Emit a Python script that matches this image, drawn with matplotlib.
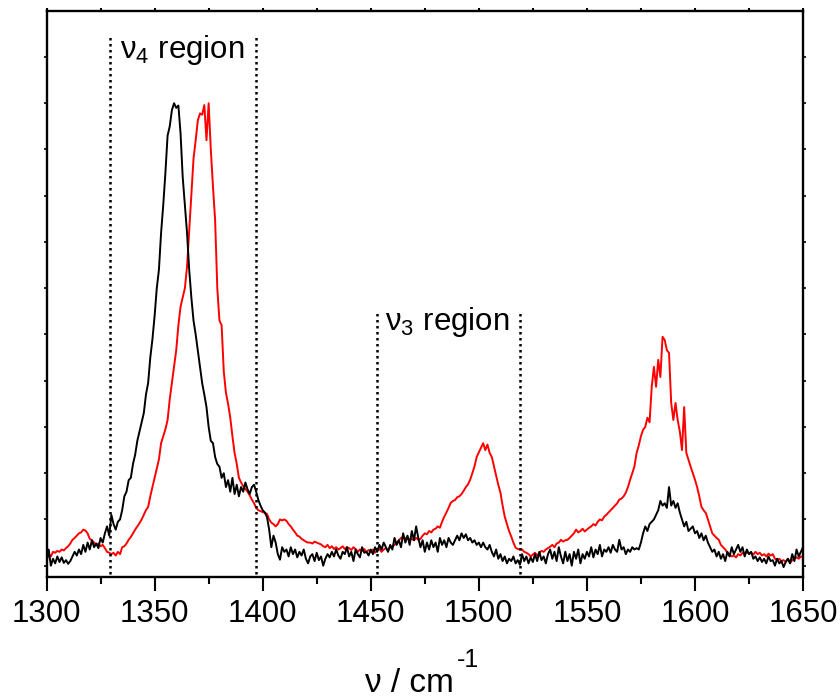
import numpy as np
import matplotlib.pyplot as plt
from matplotlib.ticker import MultipleLocator, NullFormatter

plt.rcParams['font.family'] = ['Liberation Sans', 'DejaVu Sans']
plt.rcParams['mathtext.fontset'] = 'custom'
plt.rcParams['mathtext.rm'] = 'Liberation Sans'
plt.rcParams['mathtext.it'] = 'Liberation Sans'

# wavenumber grid, 1 cm-1 step
wavenumber = np.arange(1300, 1651)

# black spectrum (normalised intensity)
black = [
    0.005, 0.035, 0.0, 0.015, 0.005, 0.02, 0.008, 0.018, 0.006, 0.012,
    0.004, 0.01, 0.02, 0.03, 0.022, 0.035, 0.025, 0.045, 0.03, 0.05,
    0.035, 0.055, 0.04, 0.048, 0.038, 0.06, 0.05, 0.07, 0.085, 0.065,
    0.11, 0.09, 0.078, 0.095, 0.1, 0.12, 0.15, 0.16, 0.185, 0.19,
    0.22, 0.24, 0.27, 0.29, 0.31, 0.33, 0.37, 0.395, 0.45, 0.49,
    0.54, 0.6, 0.64, 0.72, 0.78, 0.85, 0.93, 0.95, 0.985, 1.0,
    0.99, 0.995, 0.935, 0.84, 0.78, 0.72, 0.64, 0.58, 0.53, 0.5,
    0.465, 0.43, 0.395, 0.37, 0.343, 0.3, 0.27, 0.265, 0.235, 0.22,
    0.214, 0.19, 0.2, 0.17, 0.185, 0.16, 0.19, 0.155, 0.175, 0.15,
    0.17, 0.16, 0.18, 0.165, 0.155, 0.17, 0.175, 0.16, 0.142, 0.13,
    0.12, 0.115, 0.105, 0.078, 0.04, 0.065, 0.05, 0.025, 0.013, 0.04,
    0.03, 0.035, 0.02, 0.04, 0.025, 0.035, 0.018, 0.03, 0.022, 0.035,
    0.015, 0.005, 0.02, 0.025, 0.01, 0.028, 0.012, 0.02, 0.0, 0.015,
    0.025, 0.018, 0.03, 0.02, 0.035, 0.022, 0.015, 0.03, 0.025, 0.04,
    0.02, 0.03, 0.01, 0.035, 0.025, 0.018, 0.04, 0.028, 0.03, 0.022,
    0.035, 0.025, 0.04, 0.03, 0.045, 0.035, 0.05, 0.04, 0.03, 0.045,
    0.035, 0.06, 0.045, 0.055, 0.04, 0.07, 0.05, 0.065, 0.045, 0.075,
    0.055, 0.085, 0.06, 0.04, 0.055, 0.03, 0.05, 0.035, 0.055, 0.04,
    0.05, 0.03, 0.06, 0.045, 0.055, 0.04, 0.06, 0.05, 0.045, 0.055,
    0.065, 0.055, 0.07, 0.06, 0.068, 0.055, 0.06, 0.05, 0.055, 0.045,
    0.05, 0.04, 0.05, 0.04, 0.035, 0.045, 0.03, 0.02, 0.035, 0.015,
    0.025, 0.01, 0.02, 0.005, 0.015, 0.01, 0.02, 0.005, 0.012, 0.002,
    0.025, 0.01, 0.02, 0.005, 0.018, 0.008, 0.025, 0.01, 0.03, 0.012,
    0.02, 0.005, 0.025, 0.035, 0.015, 0.03, 0.01, 0.04, 0.02, 0.005,
    0.03, 0.01, 0.025, 0.0, 0.03, 0.015, 0.035, 0.005, 0.025, 0.015,
    0.03, 0.02, 0.04, 0.018, 0.035, 0.025, 0.045, 0.02, 0.035, 0.03,
    0.04, 0.028, 0.045, 0.035, 0.03, 0.056, 0.035, 0.04, 0.025, 0.035,
    0.03, 0.04, 0.035, 0.038, 0.035, 0.05, 0.07, 0.085, 0.075, 0.09,
    0.095, 0.1, 0.11, 0.12, 0.14, 0.13, 0.135, 0.125, 0.17, 0.13,
    0.14, 0.125, 0.135, 0.115, 0.1, 0.085, 0.095, 0.075, 0.08, 0.085,
    0.07, 0.075, 0.06, 0.07, 0.055, 0.065, 0.05, 0.04, 0.03, 0.035,
    0.02, 0.03, 0.015, 0.025, 0.01, 0.03, 0.02, 0.04, 0.025, 0.035,
    0.045, 0.03, 0.04, 0.02, 0.035, 0.025, 0.03, 0.015, 0.02, 0.01,
    0.018, 0.008, 0.015, 0.005, 0.02, 0.01, 0.012, 0.0, 0.015, 0.005,
    0.01, -0.003, 0.008, 0.015, 0.005, 0.025, 0.01, 0.035, 0.02, 0.03,
    0.04,
]

# red spectrum (normalised intensity)
red = [
    0.02, 0.025, 0.02, 0.03, 0.028, 0.032, 0.03, 0.035, 0.033, 0.038,
    0.042, 0.048, 0.056, 0.06, 0.065, 0.07, 0.072, 0.078, 0.076, 0.07,
    0.058, 0.055, 0.05, 0.045, 0.048, 0.042, 0.045, 0.038, 0.03, 0.028,
    0.025, 0.028, 0.022, 0.03, 0.025, 0.04, 0.042, 0.048, 0.056, 0.062,
    0.07, 0.078, 0.085, 0.092, 0.1, 0.11, 0.12, 0.127, 0.15, 0.17,
    0.19, 0.21, 0.23, 0.265, 0.28, 0.295, 0.315, 0.36, 0.395, 0.43,
    0.466, 0.52, 0.56, 0.58, 0.6, 0.646, 0.725, 0.8, 0.88, 0.92,
    0.963, 0.978, 0.975, 0.996, 0.92, 1.0, 0.9, 0.82, 0.747, 0.6,
    0.53, 0.52, 0.42, 0.374, 0.35, 0.32, 0.28, 0.244, 0.22, 0.19,
    0.18, 0.172, 0.166, 0.16, 0.152, 0.143, 0.135, 0.125, 0.12, 0.118,
    0.116, 0.114, 0.112, 0.1, 0.093, 0.09, 0.085, 0.09, 0.1, 0.098,
    0.1, 0.097, 0.09, 0.085, 0.078, 0.072, 0.065, 0.063, 0.058, 0.055,
    0.052, 0.05, 0.05, 0.048, 0.052, 0.05, 0.048, 0.046, 0.042, 0.04,
    0.045, 0.038, 0.042, 0.036, 0.04, 0.035, 0.038, 0.042, 0.036, 0.04,
    0.038, 0.034, 0.04, 0.036, 0.03, 0.035, 0.032, 0.036, 0.03, 0.034,
    0.03, 0.035, 0.028, 0.033, 0.036, 0.03, 0.035, 0.038, 0.034, 0.04,
    0.042, 0.045, 0.05, 0.055, 0.06, 0.063, 0.058, 0.062, 0.056, 0.058,
    0.055, 0.06, 0.056, 0.058, 0.065, 0.07, 0.068, 0.075, 0.072, 0.078,
    0.08, 0.085, 0.082, 0.095, 0.106, 0.115, 0.125, 0.136, 0.14, 0.142,
    0.148, 0.15, 0.155, 0.162, 0.17, 0.176, 0.186, 0.2, 0.215, 0.235,
    0.245, 0.255, 0.265, 0.25, 0.262, 0.244, 0.235, 0.215, 0.195, 0.175,
    0.158, 0.13, 0.106, 0.09, 0.075, 0.063, 0.05, 0.039, 0.036, 0.035,
    0.035, 0.03, 0.028, 0.025, 0.02, 0.024, 0.028, 0.022, 0.028, 0.032,
    0.03, 0.035, 0.038, 0.041, 0.045, 0.04, 0.048, 0.05, 0.056, 0.052,
    0.055, 0.056, 0.06, 0.065, 0.07, 0.078, 0.072, 0.075, 0.08, 0.074,
    0.078, 0.082, 0.085, 0.09, 0.087, 0.095, 0.1, 0.098, 0.106, 0.11,
    0.115, 0.12, 0.125, 0.13, 0.135, 0.143, 0.145, 0.15, 0.158, 0.17,
    0.186, 0.2, 0.215, 0.244, 0.26, 0.28, 0.294, 0.3, 0.32, 0.31,
    0.387, 0.43, 0.387, 0.445, 0.408, 0.495, 0.488, 0.466, 0.46, 0.352,
    0.315, 0.352, 0.315, 0.29, 0.25, 0.343, 0.244, 0.229, 0.214, 0.2,
    0.186, 0.17, 0.15, 0.127, 0.12, 0.114, 0.1, 0.085, 0.07, 0.065,
    0.06, 0.056, 0.045, 0.04, 0.035, 0.028, 0.025, 0.02, 0.022, 0.018,
    0.025, 0.022, 0.028, 0.025, 0.03, 0.026, 0.028, 0.024, 0.03, 0.025,
    0.028, 0.022, 0.025, 0.02, 0.026, 0.022, 0.025, 0.015, 0.012, 0.015,
    0.01, 0.012, 0.008, 0.015, 0.006, 0.012, 0.015, 0.018, 0.015, 0.02,
    0.018,
]

# region markers (cm-1) and how high the dotted lines reach
v4_bounds = [1329.5, 1397]
v3_bounds = [1453, 1519]
v4_top = 1.147
v3_top = 0.546

fig = plt.figure(figsize=(8.4, 7), dpi=100)
ax = fig.add_axes([0.0554, 0.176, 0.9006, 0.808])

ax.plot(wavenumber, red, color='red', lw=1.4)
ax.plot(wavenumber, black, color='black', lw=1.4)

for xb in v4_bounds:
    ax.plot([xb, xb], [-0.03, v4_top], color='black', lw=1.8,
            linestyle=(0, (1, 1.4)))
for xb in v3_bounds:
    ax.plot([xb, xb], [-0.03, v3_top], color='black', lw=1.8,
            linestyle=(0, (1, 1.4)))

ax.text(1334, 1.097, r'$\mathregular{\nu_4}$ region', fontsize=22.5)
ax.text(1456.5, 0.51, r'$\mathregular{\nu_3}$ region', fontsize=22.5)

ax.set_xlim(1300, 1650)
ax.set_ylim(-0.024, 1.199)

ax.xaxis.set_major_locator(MultipleLocator(50))
ax.xaxis.set_minor_locator(MultipleLocator(25))
ax.yaxis.set_major_locator(MultipleLocator(0.1))
ax.yaxis.set_major_formatter(NullFormatter())

ax.tick_params(axis='x', which='major', direction='out', length=10, width=1.5,
               labelsize=22.5, pad=6)
ax.tick_params(axis='x', which='minor', direction='out', length=5, width=1.5)
ax.tick_params(axis='x', which='both', top=True)
ax.tick_params(axis='y', which='major', direction='out', length=2, width=1.2,
               left=True, right=True)

# top ticks are short
for t in ax.xaxis.get_major_ticks() + ax.xaxis.get_minor_ticks():
    t.tick2line.set_markersize(2)

for s in ax.spines.values():
    s.set_linewidth(1.7)

# axis label: "ν / cm" with a hyphen-style "-1" superscript
lab = fig.text(365 / 840, 1 - 692 / 700, 'ν / cm', fontsize=24,
               ha='left', va='baseline')
fig.canvas.draw()
bb = lab.get_window_extent()
fig.text((bb.x1 + 3) / 840, 1 - 667 / 700, '-1', fontsize=18,
         ha='left', va='baseline')

fig.savefig('out.png', dpi=100)
